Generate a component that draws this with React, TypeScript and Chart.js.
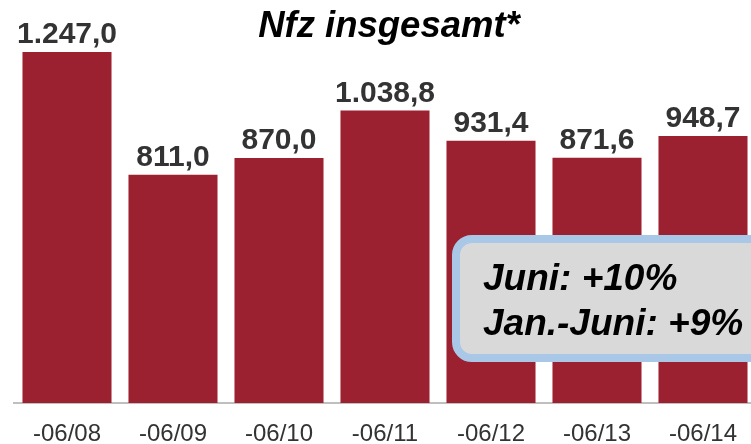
import React, { useEffect, useRef } from "react";
import { Chart, registerables } from "chart.js";

Chart.register(...registerables);

const categories = ["-06/08", "-06/09", "-06/10", "-06/11", "-06/12", "-06/13", "-06/14"];
const values = [1247.0, 811.0, 870.0, 1038.8, 931.4, 871.6, 948.7];
const valueLabels = ["1.247,0", "811,0", "870,0", "1.038,8", "931,4", "871,6", "948,7"];
const titleText = "Nfz insgesamt*";
const calloutLines = ["Juni: +10%", "Jan.-Juni: +9%"];

const FONT = '"Liberation Sans", Arial, sans-serif';
const BAR_COLOR = "#9B2130";

const overlayPlugin = {
  id: "overlay",
  afterDatasetsDraw(chart: any) {
    const ctx = chart.ctx;
    const meta = chart.getDatasetMeta(0);
    ctx.save();
    // value labels
    ctx.font = `bold 30px ${FONT}`;
    ctx.fillStyle = "#333333";
    ctx.textAlign = "center";
    ctx.textBaseline = "alphabetic";
    meta.data.forEach((bar: any, i: number) => {
      ctx.fillText(valueLabels[i], bar.x, bar.y - 9);
    });
    // title
    ctx.font = `italic bold 36.5px ${FONT}`;
    ctx.fillStyle = "#000000";
    ctx.fillText(titleText, 389, 37);
    // callout box
    ctx.beginPath();
    ctx.roundRect(456, 239, 340, 119, 16);
    ctx.fillStyle = "#D9D9D9";
    ctx.fill();
    ctx.lineWidth = 8;
    ctx.strokeStyle = "#A9C7E7";
    ctx.stroke();
    ctx.font = `italic bold 37px ${FONT}`;
    ctx.fillStyle = "#000000";
    ctx.textAlign = "left";
    ctx.fillText(calloutLines[0], 483, 290);
    ctx.fillText(calloutLines[1], 483, 335);
    ctx.restore();
  },
};

export default function App() {
  const ref = useRef<HTMLCanvasElement>(null);
  useEffect(() => {
    if (!ref.current) return;
    const chart = new Chart(ref.current, {
      type: "bar",
      data: {
        labels: categories,
        datasets: [
          {
            data: values,
            backgroundColor: BAR_COLOR,
            borderWidth: 0,
            barPercentage: 0.84,
            categoryPercentage: 1,
          },
        ],
      },
      options: {
        animation: false,
        responsive: false,
        layout: { padding: { left: 14, right: 14, top: 10, bottom: 0 } },
        plugins: { legend: { display: false }, tooltip: { enabled: false }, title: { display: false } },
        scales: {
          x: {
            grid: { display: false, drawTicks: false },
            border: { display: true, color: "#BFBFBF", width: 2 },
            ticks: { color: "#333333", font: { family: FONT, size: 24 }, padding: 17, maxRotation: 0, autoSkip: false },
            afterFit: (scale: any) => {
              scale.height = 41;
            },
          },
          y: { display: false, min: 0, max: 1396 },
        },
      },
      plugins: [overlayPlugin],
    });
    return () => chart.destroy();
  }, []);
  return (
    <div style={{ position: "fixed", left: 0, top: 0, width: 751, height: 444, overflow: "hidden", background: "#fff" }}>
      <canvas ref={ref} width={770} height={444} style={{ display: "block", width: 770, height: 444 }} />
    </div>
  );
}
